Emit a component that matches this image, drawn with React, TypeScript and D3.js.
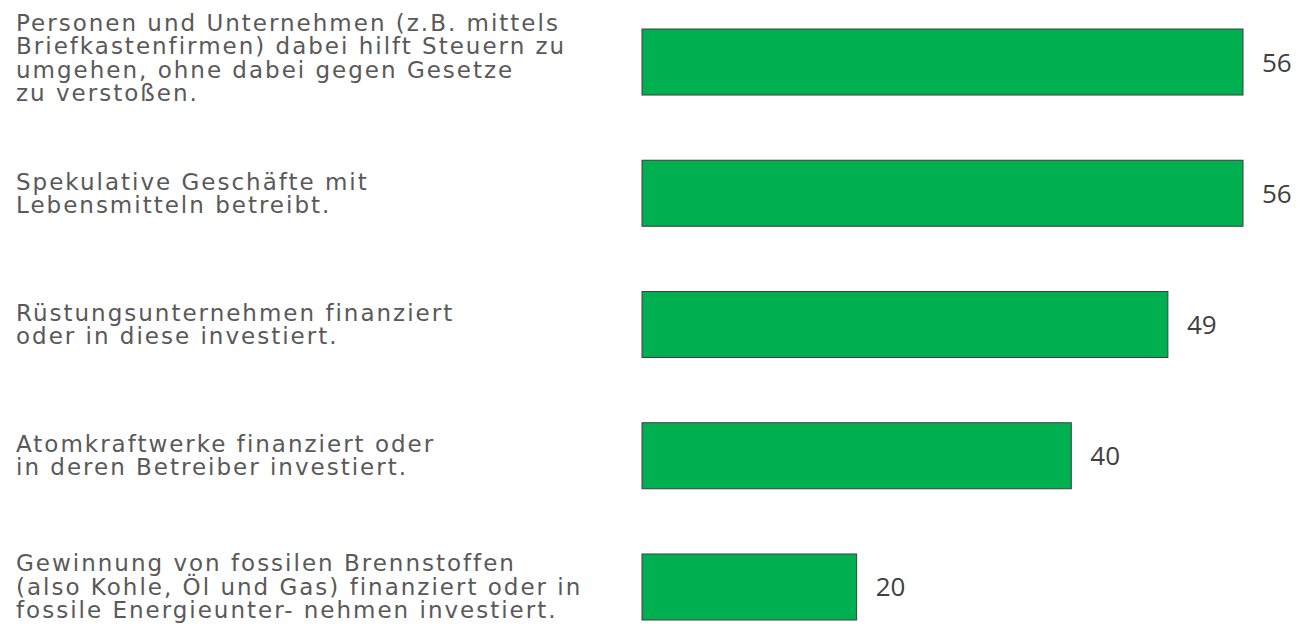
import React from "react";
import * as d3 from "d3";

const categories: string[][] = [
  ["Personen und Unternehmen (z.B. mittels", "Briefkastenfirmen) dabei hilft Steuern zu", "umgehen, ohne dabei gegen Gesetze", "zu verstoßen."],
  ["Spekulative Geschäfte mit", "Lebensmitteln betreibt."],
  ["Rüstungsunternehmen finanziert", "oder in diese investiert."],
  ["Atomkraftwerke finanziert oder", "in deren Betreiber investiert."],
  ["Gewinnung von fossilen Brennstoffen", "(also Kohle, Öl und Gas) finanziert oder in", "fossile Energieunter- nehmen investiert."],
];
const values: number[] = [56, 56, 49, 40, 20];

const W = 1299;
const H = 626;

export default function App() {
  const keys = categories.map((_, i) => String(i));
  const x = d3.scaleLinear().domain([0, 56]).range([642, 1243]);
  const y = d3
    .scaleBand<string>()
    .domain(keys)
    .range([-3.8, 652.8])
    .paddingInner(0.497)
    .paddingOuter(0.25);
  const lh = 23.5;
  const fs = 23;
  const cap = 16;
  return (
    <svg
      width={W}
      height={H}
      style={{ position: "absolute", left: 0, top: 0, background: "#fff" }}
    >
      {keys.map((k, i) => {
        const y0 = y(k)!;
        const cy = y0 + y.bandwidth() / 2;
        const lines = categories[i];
        const firstBase = cy - ((lines.length - 1) * lh) / 2 + cap / 2 - (lines.length > 3 ? 4 : 0);
        return (
          <g key={k}>
            <rect
              x={x(0)}
              y={y0}
              width={x(values[i]) - x(0)}
              height={y.bandwidth()}
              fill="#00b050"
              stroke="#3f3f3f"
              strokeWidth={1}
            />
            <text
              x={x(values[i]) + 19}
              y={cy + 9.5}
              fontFamily="'Open Sans', sans-serif"
              fontSize={26}
              fill="#404040"
            >
              {values[i]}
            </text>
            <text
              fontFamily="'DejaVu Sans', Verdana, sans-serif"
              fontSize={fs}
              letterSpacing={2.0}
              fill="#595959"
            >
              {lines.map((l, j) => (
                <tspan key={j} x={16} y={firstBase + j * lh}>
                  {l}
                </tspan>
              ))}
            </text>
          </g>
        );
      })}
    </svg>
  );
}
